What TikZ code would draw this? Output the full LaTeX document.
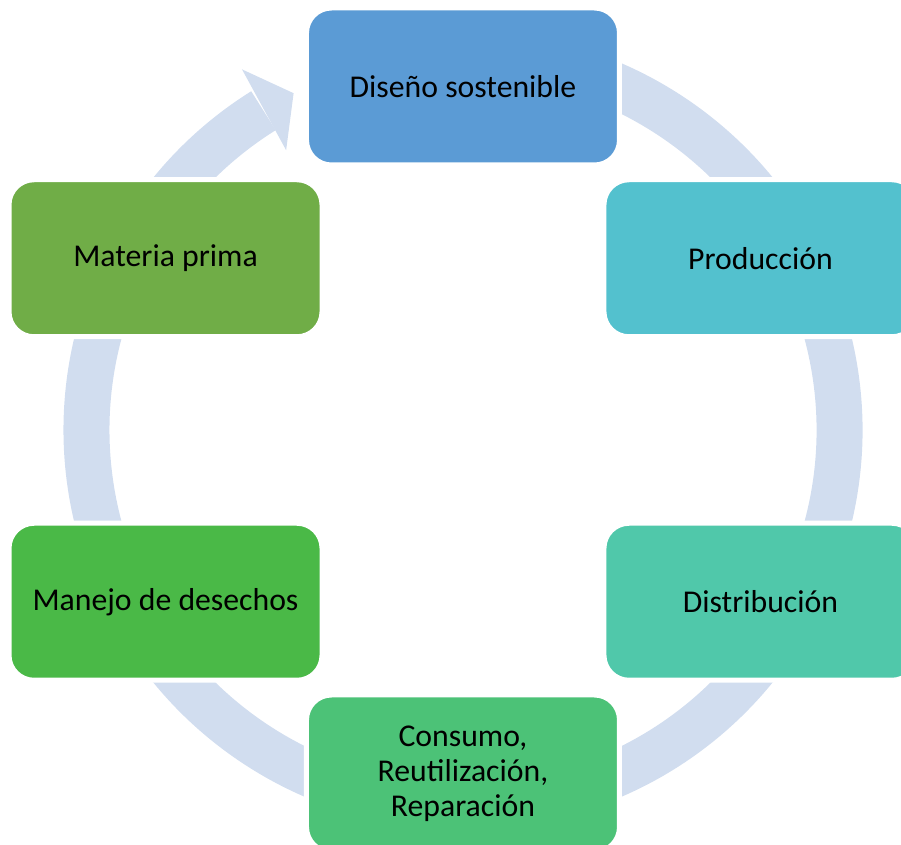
\documentclass[tikz,border=0pt]{standalone}
\usepackage{fontspec}
\setmainfont{Carlito}
\definecolor{ringblue}{HTML}{D1DDEF}
\definecolor{cdesign}{HTML}{5B9BD5}
\definecolor{cprod}{HTML}{53C1CE}
\definecolor{cdist}{HTML}{50C8AA}
\definecolor{cconsumo}{HTML}{4CC277}
\definecolor{cwaste}{HTML}{4AB947}
\definecolor{craw}{HTML}{70AD47}
\begin{document}
\begin{tikzpicture}[x=0.75pt,y=0.75pt,
  stage/.style={rectangle,rounded corners=18.75pt,draw=white,line width=3.75pt,
    minimum width=234.75pt,minimum height=117.75pt,inner sep=0pt,align=center,
    font=\fontsize{23.8}{26.25}\selectfont}]
\pgfmathsetmacro{\rnode}{343.5}          %radius of the stage centres
 \pgfmathsetmacro{\rring}{376.5}         %radius of the ring midline
\coordinate (O) at (0,0);
\useasboundingbox (-463,-415) rectangle (438,430);
%ring
\draw[ringblue,line width=34.5pt] (105:\rring) arc[start angle=105,end angle=-238,radius=\rring];
%head of ring
\fill[ringblue] (121.5:423) -- (116.7:377) -- (122.3:331) -- cycle;
%stages
\node[stage,fill=cdesign] (design) at (90:\rnode) {Diseño sostenible};
\node[stage,fill=cprod] (prod) at (30:\rnode) {Producción};
\node[stage,fill=cdist] (dist) at (-30:\rnode) {Distribución};
\node[stage,fill=cconsumo] (consumo) at (-90:\rnode) {Consumo,\\Reutilización,\\Reparación};
\node[stage,fill=cwaste] (waste) at (-150:\rnode) {Manejo de desechos};
\node[stage,fill=craw] (raw) at (150:\rnode) {Materia prima};
\end{tikzpicture}
\end{document}
